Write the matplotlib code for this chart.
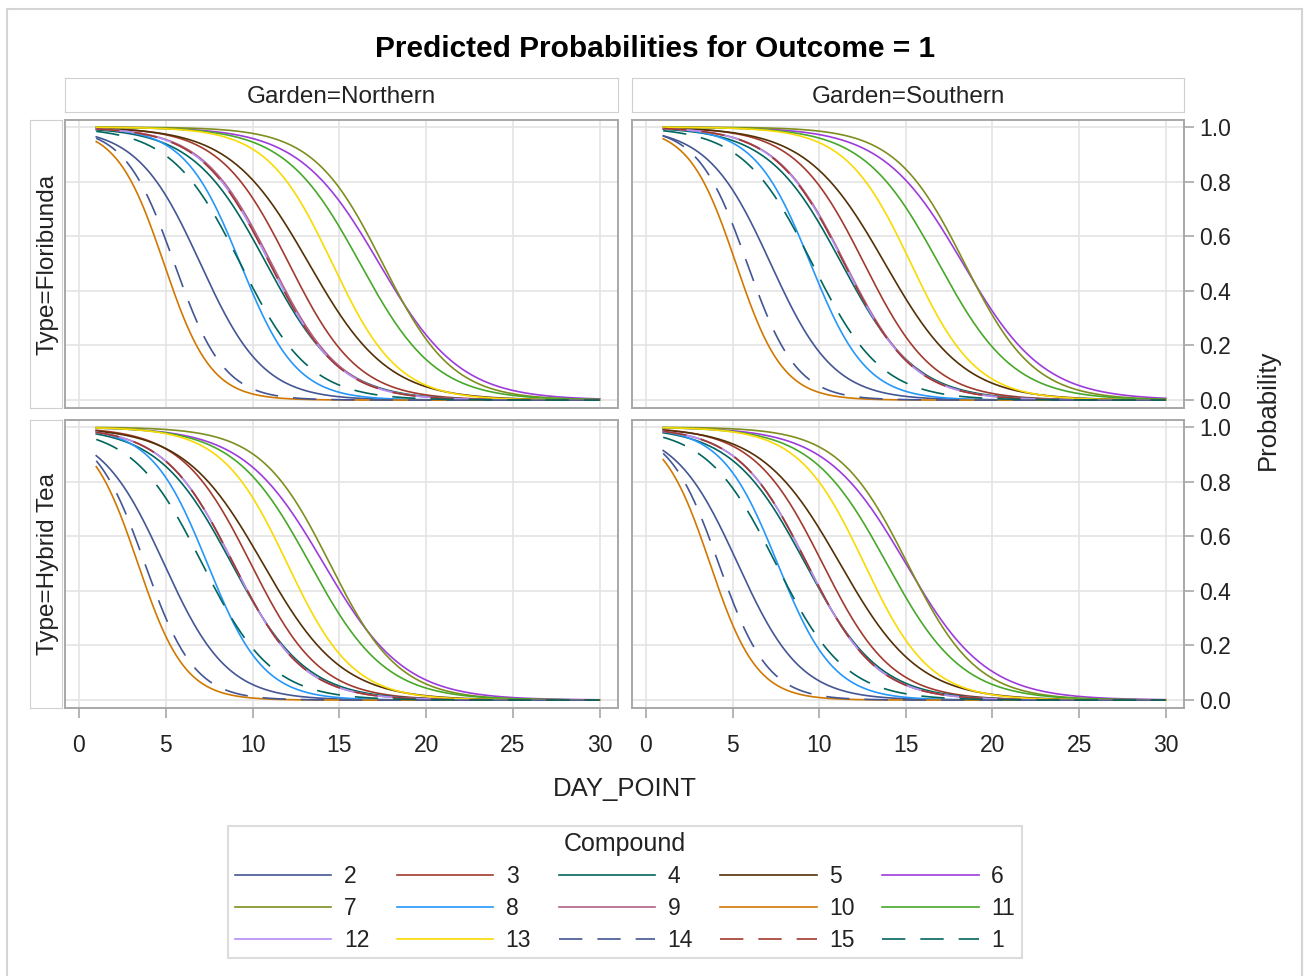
import numpy as np
import matplotlib.pyplot as plt
from matplotlib.patches import Rectangle

plt.rcParams['font.family'] = ['Liberation Sans', 'DejaVu Sans']

# Compound order as in the legend
compounds = ['2', '3', '4', '5', '6', '7', '8', '9', '10', '11', '12', '13', '14', '15', '1']
colors = ['#445694', '#A23A2E', '#01665E', '#543005', '#9D3CDB', '#7F8E1F', '#2597FA',
          '#B26084', '#D17800', '#47A82A', '#B38EF3', '#F9DA04', '#445694', '#A23A2E', '#01665E']
dashed = ['14', '15', '1']

# day where predicted probability = 0.5
mid_north_flor = [7.0, 12.1, 10.8, 13.25, 17.3, 17.5, 9.3, 11.1, 4.9, 16.2, 11.0, 14.6, 5.5, 11.0, 9.3]
mid_south_flor = [7.2, 12.6, 11.3, 13.8, 18.3, 18.4, 9.5, 11.5, 5.2, 16.9, 11.45, 15.3, 5.85, 11.45, 9.6]
mid_north_hyb = [4.9, 9.9, 8.8, 10.6, 14.1, 14.45, 7.4, 8.9, 3.4, 13.3, 8.9, 12.0, 3.8, 8.9, 7.1]
mid_south_hyb = [5.3, 10.2, 9.2, 11.2, 15.0, 15.1, 7.6, 9.3, 3.7, 13.9, 9.3, 12.6, 4.2, 9.3, 7.5]
# steepness of each compound's curve
slope = [0.55, 0.5, 0.47, 0.44, 0.43, 0.5, 0.62, 0.5, 0.74, 0.46, 0.5, 0.53, 0.7, 0.5, 0.5]

days = np.arange(1, 30.01, 0.1)

W, H = 1304, 976
fig = plt.figure(figsize=(W / 100, H / 100), dpi=100)


def box(x0, y0, x1, y1):
    return [x0 / W, 1 - y1 / H, (x1 - x0) / W, (y1 - y0) / H]


fig.patches.append(Rectangle((7 / W, -0.01), (1302 - 7) / W, 1 - 9 / H + 0.01,
                             transform=fig.transFigure, fill=False,
                             edgecolor='#D4D4D4', lw=1.5))

fig.text(655 / W, 1 - 49 / H, 'Predicted Probabilities for Outcome = 1',
         ha='center', va='center', fontsize=21.5, fontweight='bold')

txt_col = '#222222'
frame_col = '#A8A8A8'
head_col = '#D0D0D0'

cols = [('Garden=Northern', 65, 618), ('Garden=Southern', 632, 1184)]
rows = [('Type=Floribunda', 120, 408), ('Type=Hybrid Tea', 420, 708)]
mids = [[mid_north_flor, mid_south_flor], [mid_north_hyb, mid_south_hyb]]

for label, x0, x1 in cols:
    hx = fig.add_axes(box(x0, 78, x1, 112))
    hx.set_xticks([]); hx.set_yticks([])
    for s in hx.spines.values():
        s.set_color(head_col)
    hx.text(0.5, 0.45, label, ha='center', va='center', fontsize=17.5,
            color=txt_col, transform=hx.transAxes)

handles = []
for r, (rlabel, y0, y1) in enumerate(rows):
    hy = fig.add_axes(box(30, y0, 62, y1))
    hy.set_xticks([]); hy.set_yticks([])
    for s in hy.spines.values():
        s.set_color(head_col)
    hy.text(0.55, 0.5, rlabel, ha='center', va='center', rotation=90,
            fontsize=17.5, color=txt_col, transform=hy.transAxes)

    for c, (clabel, x0, x1) in enumerate(cols):
        ax = fig.add_axes(box(x0, y0, x1, y1))
        ax.set_xlim(-0.8, 31.05)
        ax.set_ylim(-0.029, 1.026)
        ax.set_xticks([0, 5, 10, 15, 20, 25, 30])
        ax.set_yticks([0.0, 0.2, 0.4, 0.6, 0.8, 1.0])
        ax.grid(True, color='#E4E4E4', lw=1.2)
        ax.set_axisbelow(True)
        for s in ax.spines.values():
            s.set_color(frame_col)
            s.set_linewidth(1.4)
        ax.tick_params(colors=frame_col, labelcolor=txt_col, labelsize=16.5,
                       length=7, width=1.2)
        ax.tick_params(axis='y', left=False, labelleft=False,
                       right=(c == 1), labelright=(c == 1), pad=4)
        ax.tick_params(axis='x', bottom=(r == 1), labelbottom=(r == 1),
                       top=False, pad=12)
        if c == 1:
            ax.yaxis.set_major_formatter(plt.FormatStrFormatter('%.1f'))

        for i, name in enumerate(compounds):
            p = 1 / (1 + np.exp(slope[i] * (days - mids[r][c][i])))
            ls = (0, (14, 9)) if name in dashed else '-'
            ln, = ax.plot(days, p, color=colors[i], lw=1.2, ls=ls, label=name)
            if r == 0 and c == 0:
                handles.append(ln)

fig.text(625 / W, 1 - 789 / H, 'DAY_POINT', ha='center', va='center',
         fontsize=18.5, color=txt_col)
fig.text(1268 / W, 1 - 410 / H, 'Probability', ha='center', va='center',
         rotation=90, fontsize=18.5, color=txt_col)

# legend fills column by column, so reorder to read row-wise
order = [i + 5 * k for i in range(5) for k in range(3)]
leg = fig.legend([handles[i] for i in order], [compounds[i] for i in order],
                 ncol=5, title='Compound', loc='center',
                 bbox_to_anchor=(625 / W, 1 - 892 / H), fontsize=16.5,
                 title_fontsize=18, frameon=True, fancybox=False,
                 edgecolor='#D4D4D4', handlelength=4.2, handletextpad=0.55,
                 columnspacing=1.2, labelspacing=0.38, borderpad=0.3)
leg.get_frame().set_linewidth(1.5)
for t in leg.get_texts():
    t.set_color(txt_col)
leg.get_title().set_color(txt_col)

fig.savefig('out.png', dpi=100, facecolor='white')
